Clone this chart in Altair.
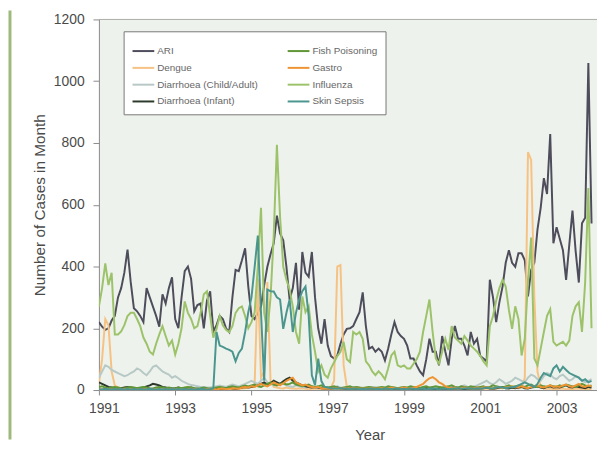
import altair as alt
import pandas as pd

# Monthly counts, Jan 1991 .. Dec 2003 (12 values per row = one year)
ari = [
    220, 205, 195, 200, 225, 240, 300, 330, 380, 455, 350, 265,
    255, 240, 220, 330, 300, 270, 240, 205, 310, 280, 330, 365,
    230, 200, 300, 385, 400, 360, 255, 275, 280, 200, 290, 320,
    190, 210, 240, 230, 200, 188, 300, 389, 385, 420, 459, 335,
    240, 230, 250, 271, 340, 399, 440, 475, 565, 507, 485, 399,
    293, 330, 412, 260, 447, 380, 367, 447, 300, 200, 150, 230,
    144, 110, 102, 112, 150, 180, 198, 200, 207, 230, 252, 316,
    207, 134, 140, 124, 134, 124, 96, 134, 180, 220, 188, 175,
    166, 144, 102, 102, 80, 60, 48, 100, 166, 124, 124, 80,
    175, 124, 80, 166, 207, 166, 166, 144, 112, 188, 150, 166,
    110, 102, 93, 357, 300, 220, 284, 335, 412, 453, 412, 399,
    443, 443, 420, 303, 389, 412, 520, 590, 686, 635, 829, 475,
    527, 490, 453, 357, 470, 581, 450, 348, 540, 558, 1059, 539,
]
dengue = [
    20, 100, 230, 210, 60, 15, 8, 5, 4, 3, 2, 3,
    2, 3, 2, 2, 3, 2, 2, 3, 2, 2, 3, 2,
    2, 2, 3, 2, 2, 3, 2, 2, 3, 2, 2, 2,
    2, 3, 2, 2, 3, 2, 2, 3, 4, 5, 6, 8,
    10, 20, 360, 40, 60, 350, 30, 10, 8, 6, 5, 8,
    6, 5, 4, 5, 6, 4, 3, 4, 5, 4, 3, 4,
    5, 8, 30, 400, 405, 80, 10, 5, 4, 3, 4, 3,
    3, 4, 3, 2, 3, 4, 3, 2, 3, 2, 3, 2,
    2, 3, 2, 3, 2, 3, 4, 5, 6, 5, 4, 3,
    3, 2, 3, 4, 3, 2, 3, 2, 3, 2, 3, 4,
    3, 4, 5, 4, 3, 5, 6, 8, 10, 8, 6, 10,
    5, 8, 40, 770, 745, 300, 60, 10, 5, 4, 5, 3,
    3, 4, 5, 3, 4, 3, 4, 5, 3, 4, 3, 4,
]
diarr_child = [
    40, 60, 80, 75, 65, 60, 55, 50, 45, 48, 55, 60,
    70, 65, 55, 48, 60, 75, 80, 70, 60, 55, 50, 40,
    45, 38, 30, 25, 20, 16, 15, 12, 10, 10, 8, 8,
    10, 12, 15, 12, 10, 14, 18, 15, 12, 16, 20, 25,
    30, 25, 20, 30, 40, 25, 20, 15, 18, 22, 20, 15,
    12, 10, 15, 12, 10, 8, 10, 12, 8, 6, 8, 10,
    8, 6, 10, 12, 8, 6, 5, 8, 10, 6, 5, 8,
    6, 5, 8, 10, 6, 5, 4, 6, 8, 5, 6, 5,
    5, 6, 8, 6, 5, 8, 10, 8, 6, 5, 8, 10,
    8, 6, 10, 12, 10, 8, 12, 15, 10, 8, 12, 15,
    20, 25, 30, 22, 18, 25, 35, 28, 20, 25, 30, 40,
    35, 30, 25, 40, 50, 45, 35, 30, 45, 55, 50, 40,
    35, 45, 50, 40, 30, 35, 45, 40, 30, 25, 30, 35,
]
diarr_infant = [
    25, 20, 15, 10, 8, 6, 5, 6, 8, 10, 8, 6,
    5, 6, 8, 12, 15, 20, 18, 15, 10, 8, 6, 5,
    6, 8, 5, 4, 6, 8, 5, 4, 3, 5, 4, 3,
    3, 4, 5, 4, 6, 8, 5, 4, 6, 8, 10, 8,
    10, 12, 15, 20, 25, 18, 22, 30, 25, 20, 28, 35,
    40, 30, 25, 20, 15, 12, 10, 8, 10, 8, 6, 5,
    5, 4, 6, 8, 5, 4, 3, 5, 4, 3, 5, 4,
    3, 4, 5, 3, 4, 5, 3, 4, 5, 3, 4, 3,
    4, 3, 5, 4, 3, 5, 4, 6, 5, 4, 3, 5,
    4, 5, 3, 4, 6, 5, 4, 3, 5, 4, 6, 5,
    5, 6, 8, 5, 4, 6, 8, 10, 6, 5, 8, 6,
    8, 10, 6, 5, 8, 10, 12, 8, 6, 10, 12, 8,
    10, 8, 12, 15, 10, 8, 12, 10, 8, 6, 10, 8,
]
fish = [
    10, 12, 8, 6, 8, 10, 8, 6, 5, 8, 10, 8,
    6, 8, 10, 8, 6, 5, 8, 10, 8, 6, 8, 6,
    5, 8, 6, 8, 10, 8, 6, 5, 6, 8, 6, 5,
    6, 8, 10, 8, 6, 10, 12, 10, 8, 12, 15, 12,
    15, 18, 12, 10, 15, 20, 25, 18, 15, 20, 22, 18,
    20, 25, 18, 15, 12, 15, 18, 12, 10, 12, 15, 10,
    8, 10, 12, 8, 6, 8, 10, 12, 8, 10, 8, 6,
    8, 10, 8, 6, 8, 10, 8, 12, 10, 8, 6, 8,
    10, 8, 12, 10, 8, 6, 10, 12, 8, 10, 12, 10,
    8, 10, 12, 15, 10, 8, 12, 10, 8, 12, 10, 8,
    10, 12, 8, 10, 15, 12, 10, 8, 12, 15, 10, 12,
    15, 12, 10, 15, 18, 12, 10, 15, 12, 10, 15, 12,
    10, 15, 12, 18, 15, 12, 10, 15, 20, 15, 12, 15,
]
gastro = [
    3, 2, 4, 3, 2, 3, 2, 3, 4, 2, 3, 2,
    2, 3, 2, 4, 3, 2, 3, 2, 2, 3, 2, 3,
    2, 3, 2, 2, 3, 4, 3, 2, 3, 2, 3, 2,
    3, 2, 4, 5, 3, 4, 6, 5, 4, 8, 10, 8,
    12, 10, 15, 20, 15, 12, 18, 25, 20, 15, 22, 30,
    35, 40, 25, 20, 15, 18, 12, 10, 8, 10, 6, 5,
    5, 4, 6, 5, 4, 6, 5, 4, 6, 5, 4, 5,
    4, 5, 6, 4, 5, 6, 4, 5, 8, 6, 5, 6,
    8, 6, 5, 8, 10, 15, 20, 30, 38, 42, 35, 25,
    20, 12, 8, 6, 8, 5, 6, 8, 6, 5, 6, 8,
    6, 8, 10, 6, 5, 8, 10, 6, 8, 10, 12, 8,
    10, 12, 8, 6, 10, 12, 15, 10, 8, 12, 15, 10,
    12, 10, 15, 18, 12, 10, 15, 20, 12, 10, 15, 12,
]
influenza = [
    270, 330, 410, 340, 380, 180, 180, 190, 210, 240, 250, 250,
    230, 207, 170, 150, 124, 115, 150, 180, 207, 175, 144, 160,
    115, 150, 200, 287, 250, 230, 200, 207, 250, 310, 320, 240,
    170, 198, 240, 210, 195, 188, 207, 250, 265, 271, 240, 200,
    220, 252, 400, 590, 250, 188, 300, 500, 794, 560, 399, 357,
    325, 271, 188, 150, 303, 252, 271, 180, 124, 60, 80, 50,
    40, 70, 90, 110, 124, 156, 100, 90, 188, 180, 188, 166,
    93, 80, 60, 48, 61, 50, 35, 70, 112, 124, 80, 75,
    80, 70, 70, 85, 100, 124, 188, 240, 293, 188, 102, 85,
    124, 166, 130, 207, 170, 160, 150, 175, 160, 144, 134, 124,
    110, 93, 80, 207, 240, 290, 330, 357, 335, 260, 198, 271,
    230, 112, 166, 350, 494, 102, 80, 134, 188, 240, 262, 156,
    144, 150, 156, 144, 160, 240, 271, 284, 188, 350, 654, 200,
]
skin = [
    3, 2, 4, 3, 2, 3, 2, 3, 2, 3, 2, 3,
    2, 3, 2, 3, 4, 3, 2, 3, 2, 3, 2, 3,
    2, 3, 2, 3, 2, 3, 2, 3, 4, 3, 2, 3,
    5, 188, 144, 140, 134, 130, 124, 93, 120, 134, 188, 252,
    300, 399, 500, 250, 30, 325, 320, 319, 300, 293, 198, 250,
    293, 188, 250, 293, 320, 335, 240, 48, 16, 102, 29, 10,
    8, 6, 5, 4, 6, 5, 4, 3, 5, 4, 3, 4,
    3, 4, 5, 3, 4, 3, 5, 4, 3, 4, 5, 3,
    4, 3, 5, 4, 3, 4, 5, 3, 4, 5, 4, 3,
    4, 5, 3, 4, 5, 6, 4, 5, 6, 5, 4, 6,
    5, 6, 8, 6, 5, 8, 10, 8, 6, 8, 10, 10,
    15, 20, 25, 20, 15, 10, 20, 40, 55, 50, 45, 70,
    80, 60, 75, 65, 55, 50, 45, 40, 30, 35, 25, 30,
]

series = {
    "ARI": ari,
    "Dengue": dengue,
    "Diarrhoea (Child/Adult)": diarr_child,
    "Diarrhoea (Infant)": diarr_infant,
    "Fish Poisoning": fish,
    "Gastro": gastro,
    "Influenza": influenza,
    "Skin Sepsis": skin,
}
colors = {
    "ARI": "#4e4d5c",
    "Dengue": "#f6c283",
    "Diarrhoea (Child/Adult)": "#b7c9c6",
    "Diarrhoea (Infant)": "#2c3a2c",
    "Fish Poisoning": "#5f9636",
    "Gastro": "#ee9433",
    "Influenza": "#9cc26a",
    "Skin Sepsis": "#4a968e",
}
legend_order = list(series.keys())
year_ticks = [1991, 1993, 1995, 1997, 1999, 2001, 2003]
y_ticks = [0, 200, 400, 600, 800, 1000, 1200]

rows = []
for name, vals in series.items():
    for i, v in enumerate(vals):
        rows.append({"t": 1991 + i / 12.0, "series": name, "cases": v})
df = pd.DataFrame(rows)

FONT = "Liberation Sans"

lines = alt.Chart(df).mark_line(strokeWidth=2, clip=True).encode(
    x=alt.X("t:Q",
            scale=alt.Scale(domain=[1991, 2004.06], nice=False, zero=False),
            axis=alt.Axis(values=year_ticks, format="d", title="Year",
                          grid=False, tickSize=5, labelPadding=7, labelOffset=5,
                          domainColor="#8a8a8a", tickColor="#8a8a8a",
                          labelColor="#4a4a4a", labelFont=FONT, labelFontSize=14,
                          titleFont=FONT, titleFontSize=15, titleFontWeight="normal",
                          titleColor="#4a4a4a", titleX=274, titleY=50,
                          titleBaseline="alphabetic", labelFlush=False)),
    y=alt.Y("cases:Q",
            scale=alt.Scale(domain=[0, 1200], nice=False),
            axis=alt.Axis(values=y_ticks, format="d", title="Number of Cases in Month",
                          grid=False, tickSize=6, labelPadding=9,
                          domainColor="#8a8a8a", tickColor="#8a8a8a",
                          labelColor="#4a4a4a", labelFont=FONT, labelFontSize=14,
                          titleFont=FONT, titleFontSize=15.5, titleFontWeight="normal",
                          titleColor="#4a4a4a", titlePadding=6)),
    color=alt.Color("series:N",
                    scale=alt.Scale(domain=legend_order,
                                    range=[colors[s] for s in legend_order]),
                    legend=alt.Legend(title=None, orient="none", legendX=25, legendY=12,
                                      columns=2, padding=8, strokeColor="#777777",
                                      fillColor="#ffffff", symbolType="stroke",
                                      symbolSize=484, symbolStrokeWidth=2,
                                      labelFont=FONT, labelFontSize=10,
                                      labelColor="#666666", labelOffset=2,
                                      columnPadding=26, rowPadding=-5, labelLimit=220)),
    detail="series:N",
)

one = pd.DataFrame({"a": [0]})
top_line = alt.Chart(one).mark_rule(color="#a9aea5", strokeWidth=1).encode(
    x=alt.value(0), x2=alt.value(504), y=alt.value(0))
side_bar = alt.Chart(one).mark_rule(color="#9dba7c", strokeWidth=3).encode(
    x=alt.value(-90), y=alt.value(-9), y2=alt.value(425))

chart = alt.layer(top_line, lines, side_bar).properties(
    width=504, height=375,
    autosize=alt.AutoSizeParams(type="none"),
    padding={"left": 92, "top": 9, "right": 0, "bottom": 50},
    background="#ffffff",
).configure_view(fill="#eef2ec", stroke=None)

chart.save("out.html", embed_options={"renderer": "svg", "actions": False})
